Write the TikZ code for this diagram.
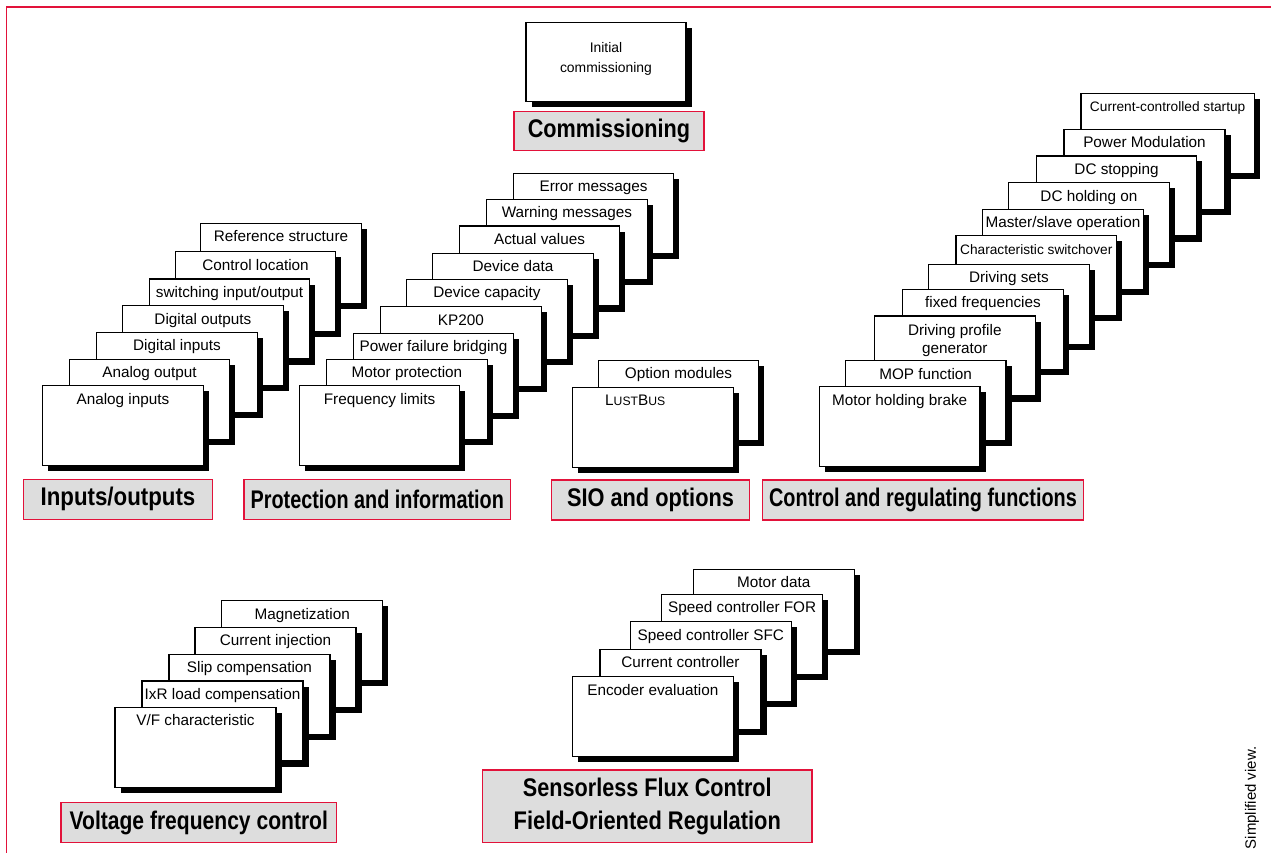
\documentclass[tikz,border=0pt]{standalone}
\usepackage{fontspec}
\setmainfont{Liberation Sans}
\usetikzlibrary{shadows}
\definecolor{framered}{RGB}{226,18,58}
\definecolor{labgray}{RGB}{221,221,221}
\newcommand\fitw[2]{\resizebox{#1}{\height}{#2}}
\newcommand\smtext{\fontsize{13.7}{16}\selectfont}
\newcommand\mkcard[5]{%
  \node[card, minimum width=#4pt] (#1) at (#2,#3) {};
  \node[ctext] (#1-t) at ([yshift=-18.5pt]#1.north) {#5};}
\begin{document}
\begin{tikzpicture}[x=1pt,y=-1pt,
  card/.style={draw=black, line width=1.1pt, fill=white, anchor=north west,
    minimum height=80pt, inner sep=0pt, outer sep=0pt,
    drop shadow={shadow xshift=5.5pt, shadow yshift=-5.5pt, fill=black, opacity=1}},
  ctext/.style={anchor=base, inner sep=0pt, font=\fontsize{15.3}{18}\selectfont},
  lab/.style={draw=framered, line width=1.5pt, fill=labgray, inner sep=0pt,
    minimum height=40pt, font=\fontsize{25.5}{32.6}\selectfont\bfseries, align=center},
  frame/.style={draw=framered, line width=1.5pt}
]
\useasboundingbox (0,0) rectangle (1271,853);
\coordinate (fA) at (6.5,853);
\coordinate (fB) at (6.5,7);
\coordinate (fC) at (1271,7);
\draw[frame] (fA) -- (fB) -- (fC);

% Commissioning
\node[card, minimum width=160pt, minimum height=79.4pt] (ic) at (526,22.3) {};
\node[anchor=north, inner sep=0pt, align=center, font=\fontsize{13.9}{20}\selectfont] (ic-t) at ([yshift=-20pt]ic.north) {Initial\\commissioning};
\node[lab, minimum width=189.7pt, minimum height=39pt] (lcom) at (608.9,131.2) {\fitw{162.3pt}{Commissioning}};

% Inputs/outputs
\mkcard{io7}{200.7}{223.3}{160.5}{Reference structure}
\mkcard{io6}{175.3}{251.7}{160.5}{Control location}
\mkcard{io5}{149.3}{279}{160.5}{switching input/output}
\mkcard{io4}{122.7}{305.7}{160.5}{Digital outputs}
\mkcard{io3}{96.7}{332.3}{160.5}{Digital inputs}
\mkcard{io2}{69.3}{359.3}{160.5}{Analog output}
\mkcard{io1}{42.7}{385.7}{160.5}{Analog inputs}
\node[lab, minimum width=189.4pt] (lio) at (118,499.3) {\fitw{154.7pt}{Inputs/outputs}};

% Protection and information
\mkcard{pi9}{513.3}{173.3}{160.5}{Error messages}
\mkcard{pi8}{486.7}{199.3}{160.5}{Warning messages}
\mkcard{pi7}{459.3}{226}{160.5}{Actual values}
\mkcard{pi6}{432.7}{253.3}{160.5}{Device data}
\mkcard{pi5}{406.7}{279.3}{160.5}{Device capacity}
\mkcard{pi4}{380.7}{306.7}{160.5}{KP200}
\mkcard{pi3}{353.3}{333.3}{160.5}{Power failure bridging}
\mkcard{pi2}{326.7}{359.3}{160.5}{Motor protection}
\mkcard{pi1}{299.3}{385.7}{160.5}{Frequency limits}
\node[lab, minimum width=266.7pt] (lpi) at (377.3,499.7) {\fitw{253.3pt}{Protection and information}};

% SIO and options
\mkcard{so2}{598.3}{360.3}{160.5}{Option modules}
\node[card, minimum width=160.5pt] (so1) at (572.7,387.3) {};
\node[anchor=base west, inner sep=0pt, font=\fontsize{15.3}{18}\selectfont] (so1-t) at (605,405) {L{\fontsize{12.2}{14}\selectfont UST}B{\fontsize{12.2}{14}\selectfont US}};
\node[lab, minimum width=197.6pt] (lso) at (650.5,500) {\fitw{167pt}{SIO and options}};

% Control and regulating functions
\mkcard{cr11}{1081}{93.3}{173.3}{\smtext Current-controlled startup}
\mkcard{cr10}{1064}{129.3}{161}{Power Modulation}
\mkcard{cr9}{1036.3}{156}{160.5}{DC stopping}
\mkcard{cr8}{1008.7}{182.7}{160.5}{DC holding on}
\mkcard{cr7}{982.7}{209.3}{160.5}{Master/slave operation}
\mkcard{cr6}{956}{235.7}{160.5}{\smtext Characteristic switchover}
\mkcard{cr5}{928.7}{264.3}{160.5}{Driving sets}
\mkcard{cr4}{902.7}{289.3}{160.5}{fixed frequencies}
\node[card, minimum width=161pt] (cr3) at (874.3,316) {};
\node[anchor=north, inner sep=0pt, align=center, font=\fontsize{15.3}{17.7}\selectfont] (cr3-t) at ([yshift=-8.3pt]cr3.north) {Driving profile\\generator};
\mkcard{cr2}{845.3}{360.7}{160.7}{MOP function}
\mkcard{cr1}{819.3}{386.7}{160.7}{Motor holding brake}
\node[lab, minimum width=320.6pt] (lcr) at (923,500) {\fitw{307.7pt}{Control and regulating functions}};

% Voltage frequency control
\mkcard{vf5}{221.7}{600.7}{161}{Magnetization}
\mkcard{vf4}{195}{627.3}{161}{Current injection}
\mkcard{vf3}{169}{654.3}{161}{Slip compensation}
\mkcard{vf2}{142}{681}{161}{IxR load compensation}
\mkcard{vf1}{115}{707.3}{161}{V/F characteristic}
\node[lab, minimum width=275.7pt] (lvf) at (198.8,822.7) {\fitw{258.3pt}{Voltage frequency control}};

% Sensorless Flux Control / Field-Oriented Regulation
\mkcard{sf5}{693.3}{569.3}{161}{Motor data}
\mkcard{sf4}{661.7}{594.3}{161}{Speed controller FOR}
\mkcard{sf3}{630.3}{621.7}{161}{Speed controller SFC}
\mkcard{sf2}{600}{649.3}{161}{Current controller}
\mkcard{sf1}{572.3}{676.7}{161}{Encoder evaluation}
\node[lab, minimum width=329.3pt, minimum height=72.7pt] (lsf) at (647.3,806.3) {\fitw{248.7pt}{Sensorless Flux Control}\\\fitw{267.3pt}{Field-Oriented Regulation}};

% note
\node[rotate=90, inner sep=0pt, font=\fontsize{15}{18}\selectfont] (note) at (1252,798) {Simplified view.};
\end{tikzpicture}
\end{document}
